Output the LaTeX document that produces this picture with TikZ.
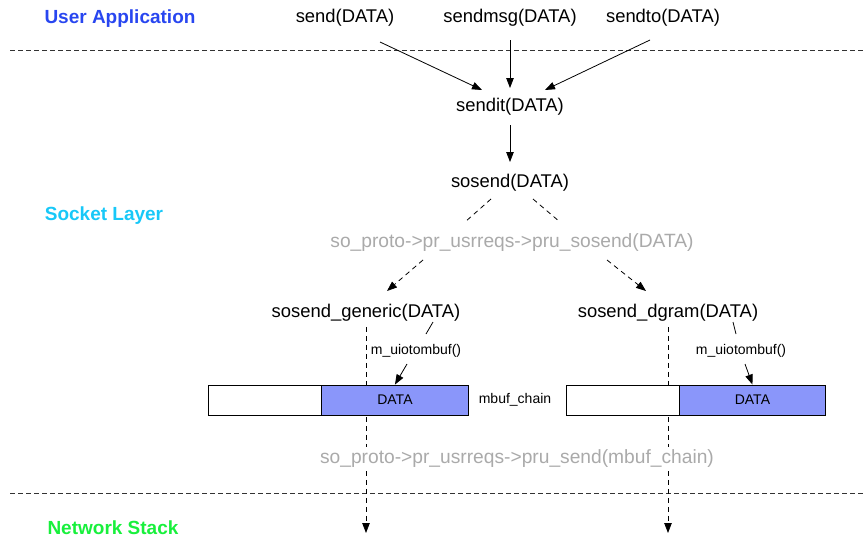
\documentclass[tikz,border=0pt]{standalone}
\usepackage{fontspec}
\setmainfont{Liberation Sans}
\usetikzlibrary{arrows.meta}
\definecolor{userblue}{RGB}{40,70,240}
\definecolor{sockcyan}{RGB}{24,200,248}
\definecolor{netgreen}{RGB}{24,240,60}
\definecolor{callgray}{RGB}{170,170,170}
\definecolor{databg}{RGB}{138,150,250}
\begin{document}
\begin{tikzpicture}[x=1pt,y=-1pt,
  fn/.style={inner sep=0pt, font=\fontsize{18.4}{20}\selectfont},
  dispatch/.style={inner sep=3pt, fill=white, text=callgray, font=\fontsize{19.2}{21}\selectfont},
  layer/.style={inner sep=0pt, font=\fontsize{19}{21}\selectfont\bfseries},
  small/.style={inner sep=0pt, font=\fontsize{14}{16}\selectfont},
  arr/.style={-{Triangle[length=10pt,width=7.5pt]}, line width=0.8pt},
  darr/.style={arr, dash pattern=on 5pt off 4pt},
  dline/.style={line width=0.8pt, dash pattern=on 5pt off 4pt},
  sepline/.style={line width=1pt, dash pattern=on 5pt off 3pt, black!80},
  cell/.style={draw, line width=0.9pt, minimum height=30pt, inner sep=0pt, anchor=west, font=\fontsize{14}{16}\selectfont}]
\useasboundingbox (0,0) rectangle (863,541);

% layer titles
\node[layer, text=userblue] (lua) at (120,19) {User Application};
\node[layer, text=sockcyan] (lsl) at (104,216) {Socket Layer};
\node[layer, text=netgreen] (lns) at (113,528) {Network Stack};

% layer boundaries
\draw[sepline] (10,50) -- (863,50);
\draw[sepline] (10,493) -- (863,493);

% system calls
\node[fn] (send) at (345,18) {send(DATA)};
\node[fn] (sendmsg) at (510,18) {sendmsg(DATA)};
\node[fn] (sendto) at (663,18) {sendto(DATA)};
\node[fn] (sendit) at (510,107) {sendit(DATA)};
\node[fn] (sosend) at (510,183) {sosend(DATA)};
\node[dispatch] (pruso) at (512,243) {so\_proto->pr\_usrreqs->pru\_sosend(DATA)};
\node[fn] (sg) at (366,313) {sosend\_generic(DATA)};
\node[fn] (sd) at (668,313) {sosend\_dgram(DATA)};

\draw[arr] ([shift={(35,24)}]send.center) -- ([shift={(-28,-17)}]sendit.center);
\draw[arr] ([shift={(0,22)}]sendmsg.center) -- ([shift={(0,-19)}]sendit.center);
\draw[arr] ([shift={(-13,22)}]sendto.center) -- ([shift={(35,-17)}]sendit.center);
\draw[arr] ([shift={(0,18)}]sendit.center) -- ([shift={(0,-21)}]sosend.center);

\draw[dline] ([shift={(-19,16)}]sosend.center) -- ([shift={(-47,-21)}]pruso.center);
\draw[dline] ([shift={(23,16)}]sosend.center) -- ([shift={(48,-21)}]pruso.center);
\draw[darr] ([shift={(-89,17)}]pruso.center) -- ([shift={(21,-22)}]sg.center);
\draw[darr] ([shift={(95,17)}]pruso.center) -- ([shift={(-22,-22)}]sd.center);

% paths down into the network stack
\coordinate (ns1) at (366,533);
\coordinate (ns2) at (668,533);
\draw[darr, shorten <=5pt] (sg.south) -- (ns1);
\draw[darr, shorten <=5pt] (sd.south) -- (ns2);

% mbuf chains
\node[cell, fill=white, minimum width=113pt] (buf1) at (208,400) {};
\node[cell, fill=databg, minimum width=147pt] (data1) at (321,400) {DATA};
\node[cell, fill=white, minimum width=113pt] (buf2) at (566,400) {};
\node[cell, fill=databg, minimum width=146pt] (data2) at (679,400) {DATA};
\draw[line width=1.6pt] (data1.south west) -- ++(24,0);
\draw[line width=1.6pt] (data2.south west) -- ++(23,0);
\node[small] (mc) at (515,400) {mbuf\_chain};

% copy from user space
\node[small] (mu1) at (416,351) {m\_uiotombuf()};
\node[small] (mu2) at (741,351) {m\_uiotombuf()};
\draw[line width=0.8pt] ([shift={(67,9)}]sg.center) -- ([shift={(10,-17)}]mu1.center);
\draw[line width=0.8pt] ([shift={(65,9)}]sd.center) -- ([shift={(-5,-17)}]mu2.center);
\draw[arr] ([shift={(-9,13)}]mu1.center) -- (data1.north);
\draw[arr] ([shift={(4,13)}]mu2.center) -- (data2.north);

\node[dispatch] (prusend) at (517,459) {so\_proto->pr\_usrreqs->pru\_send(mbuf\_chain)};
\end{tikzpicture}
\end{document}
